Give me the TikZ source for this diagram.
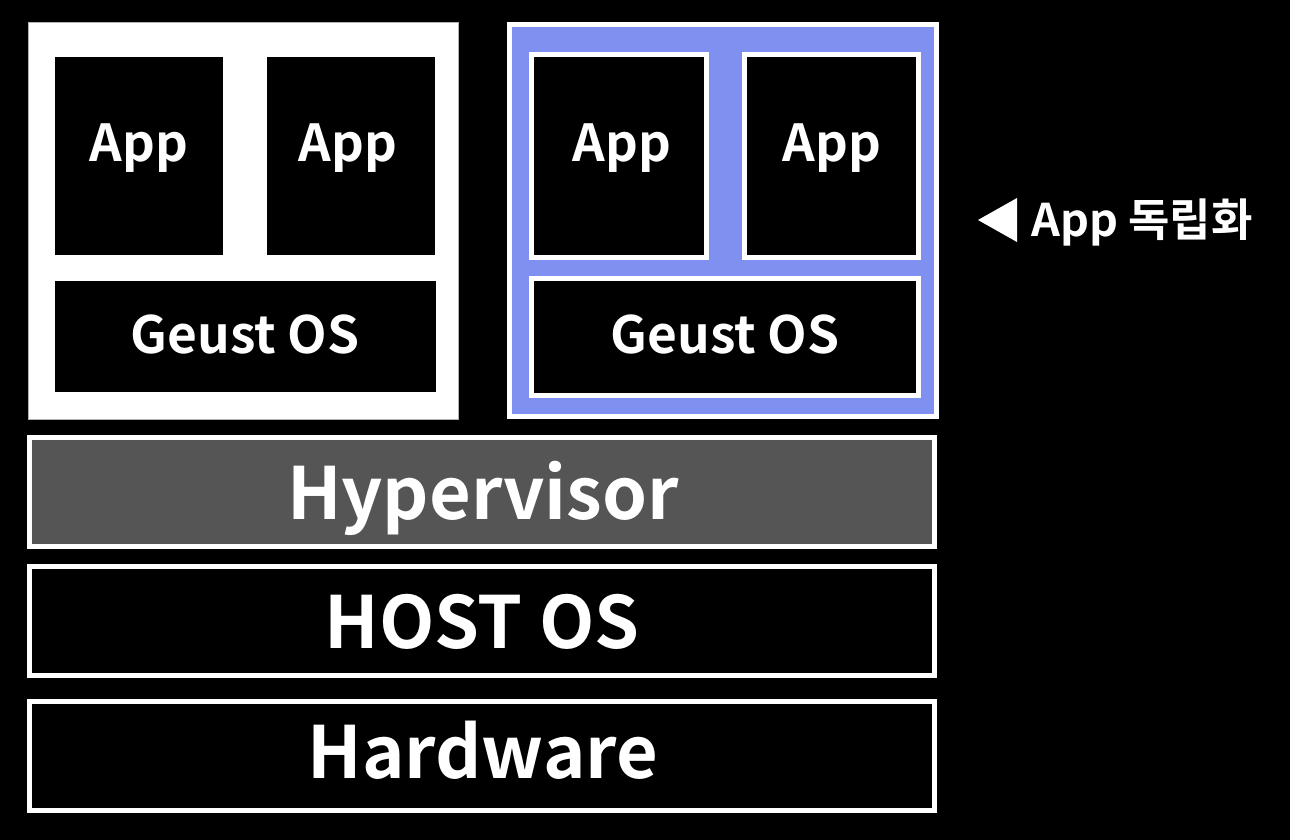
\documentclass[tikz,border=0pt]{standalone}
\usepackage{fontspec}
\setmainfont{Noto Sans CJK KR}[BoldFont={Noto Sans CJK KR Bold}]
\definecolor{vmblue}{RGB}{128,144,240}
\definecolor{hvgray}{RGB}{85,85,85}
\begin{document}
\begin{tikzpicture}[x=0.5pt,y=-0.5pt,
  wbox/.style={draw=white,line width=2.5pt,fill=black},
  txt/.style={text=white,font=\bfseries,anchor=base,inner sep=0pt},
  apptxt/.style={txt,font=\bfseries\fontsize{25.5}{28}\selectfont},
  ostxt/.style={txt,font=\bfseries\fontsize{25.7}{29}\selectfont},
  bartxt/.style={txt,font=\bfseries\fontsize{36}{40}\selectfont}]
\useasboundingbox[fill=black] (0,0) rectangle (1290,840);
% left VM
\path[fill=white,draw=gray!60,line width=0.4pt] (28,22) rectangle (458,419);
\path[fill=black] (55,57) rectangle (223,255);
\path[fill=black] (267,57) rectangle (435,255);
\path[fill=black] (55,281) rectangle (436,392);
\node[apptxt] (la1) at (139,162) {App};
\node[apptxt] (la2) at (348,162) {App};
\node[ostxt] (los) at (245,353) {Geust OS};
% right VM
\path[draw=white,fill=vmblue,line width=2.5pt] (509.5,24.5) rectangle (936.5,416.5);
\path[wbox] (531.5,54.5) rectangle (706.5,257.5);
\path[wbox] (744.5,54.5) rectangle (918.5,257.5);
\path[wbox] (531.5,278.5) rectangle (918.5,395.5);
\node[apptxt] (ra1) at (622,162) {App};
\node[apptxt] (ra2) at (832,162) {App};
\node[ostxt] (ros) at (725,353) {Geust OS};
% bars
\path[draw=white,fill=hvgray,line width=2.5pt] (29.5,437.5) rectangle (934.5,546.5);
\node[bartxt] (hv) at (483,519) {Hypervisor};
\path[wbox] (29.5,566.5) rectangle (934.5,675.5);
\node[bartxt] (host) at (482,648) {HOST OS};
\path[wbox] (29.5,701.5) rectangle (934.5,810.5);
\node[bartxt] (hw) at (483,778) {Hardware};
% label
\fill[white] (978,220) -- (1017,198) -- (1017,242) -- cycle;
\node[txt,anchor=base west,font=\bfseries\fontsize{22.5}{26}\selectfont] (lbl) at (1031,236) {App 독립화};
\end{tikzpicture}
\end{document}
